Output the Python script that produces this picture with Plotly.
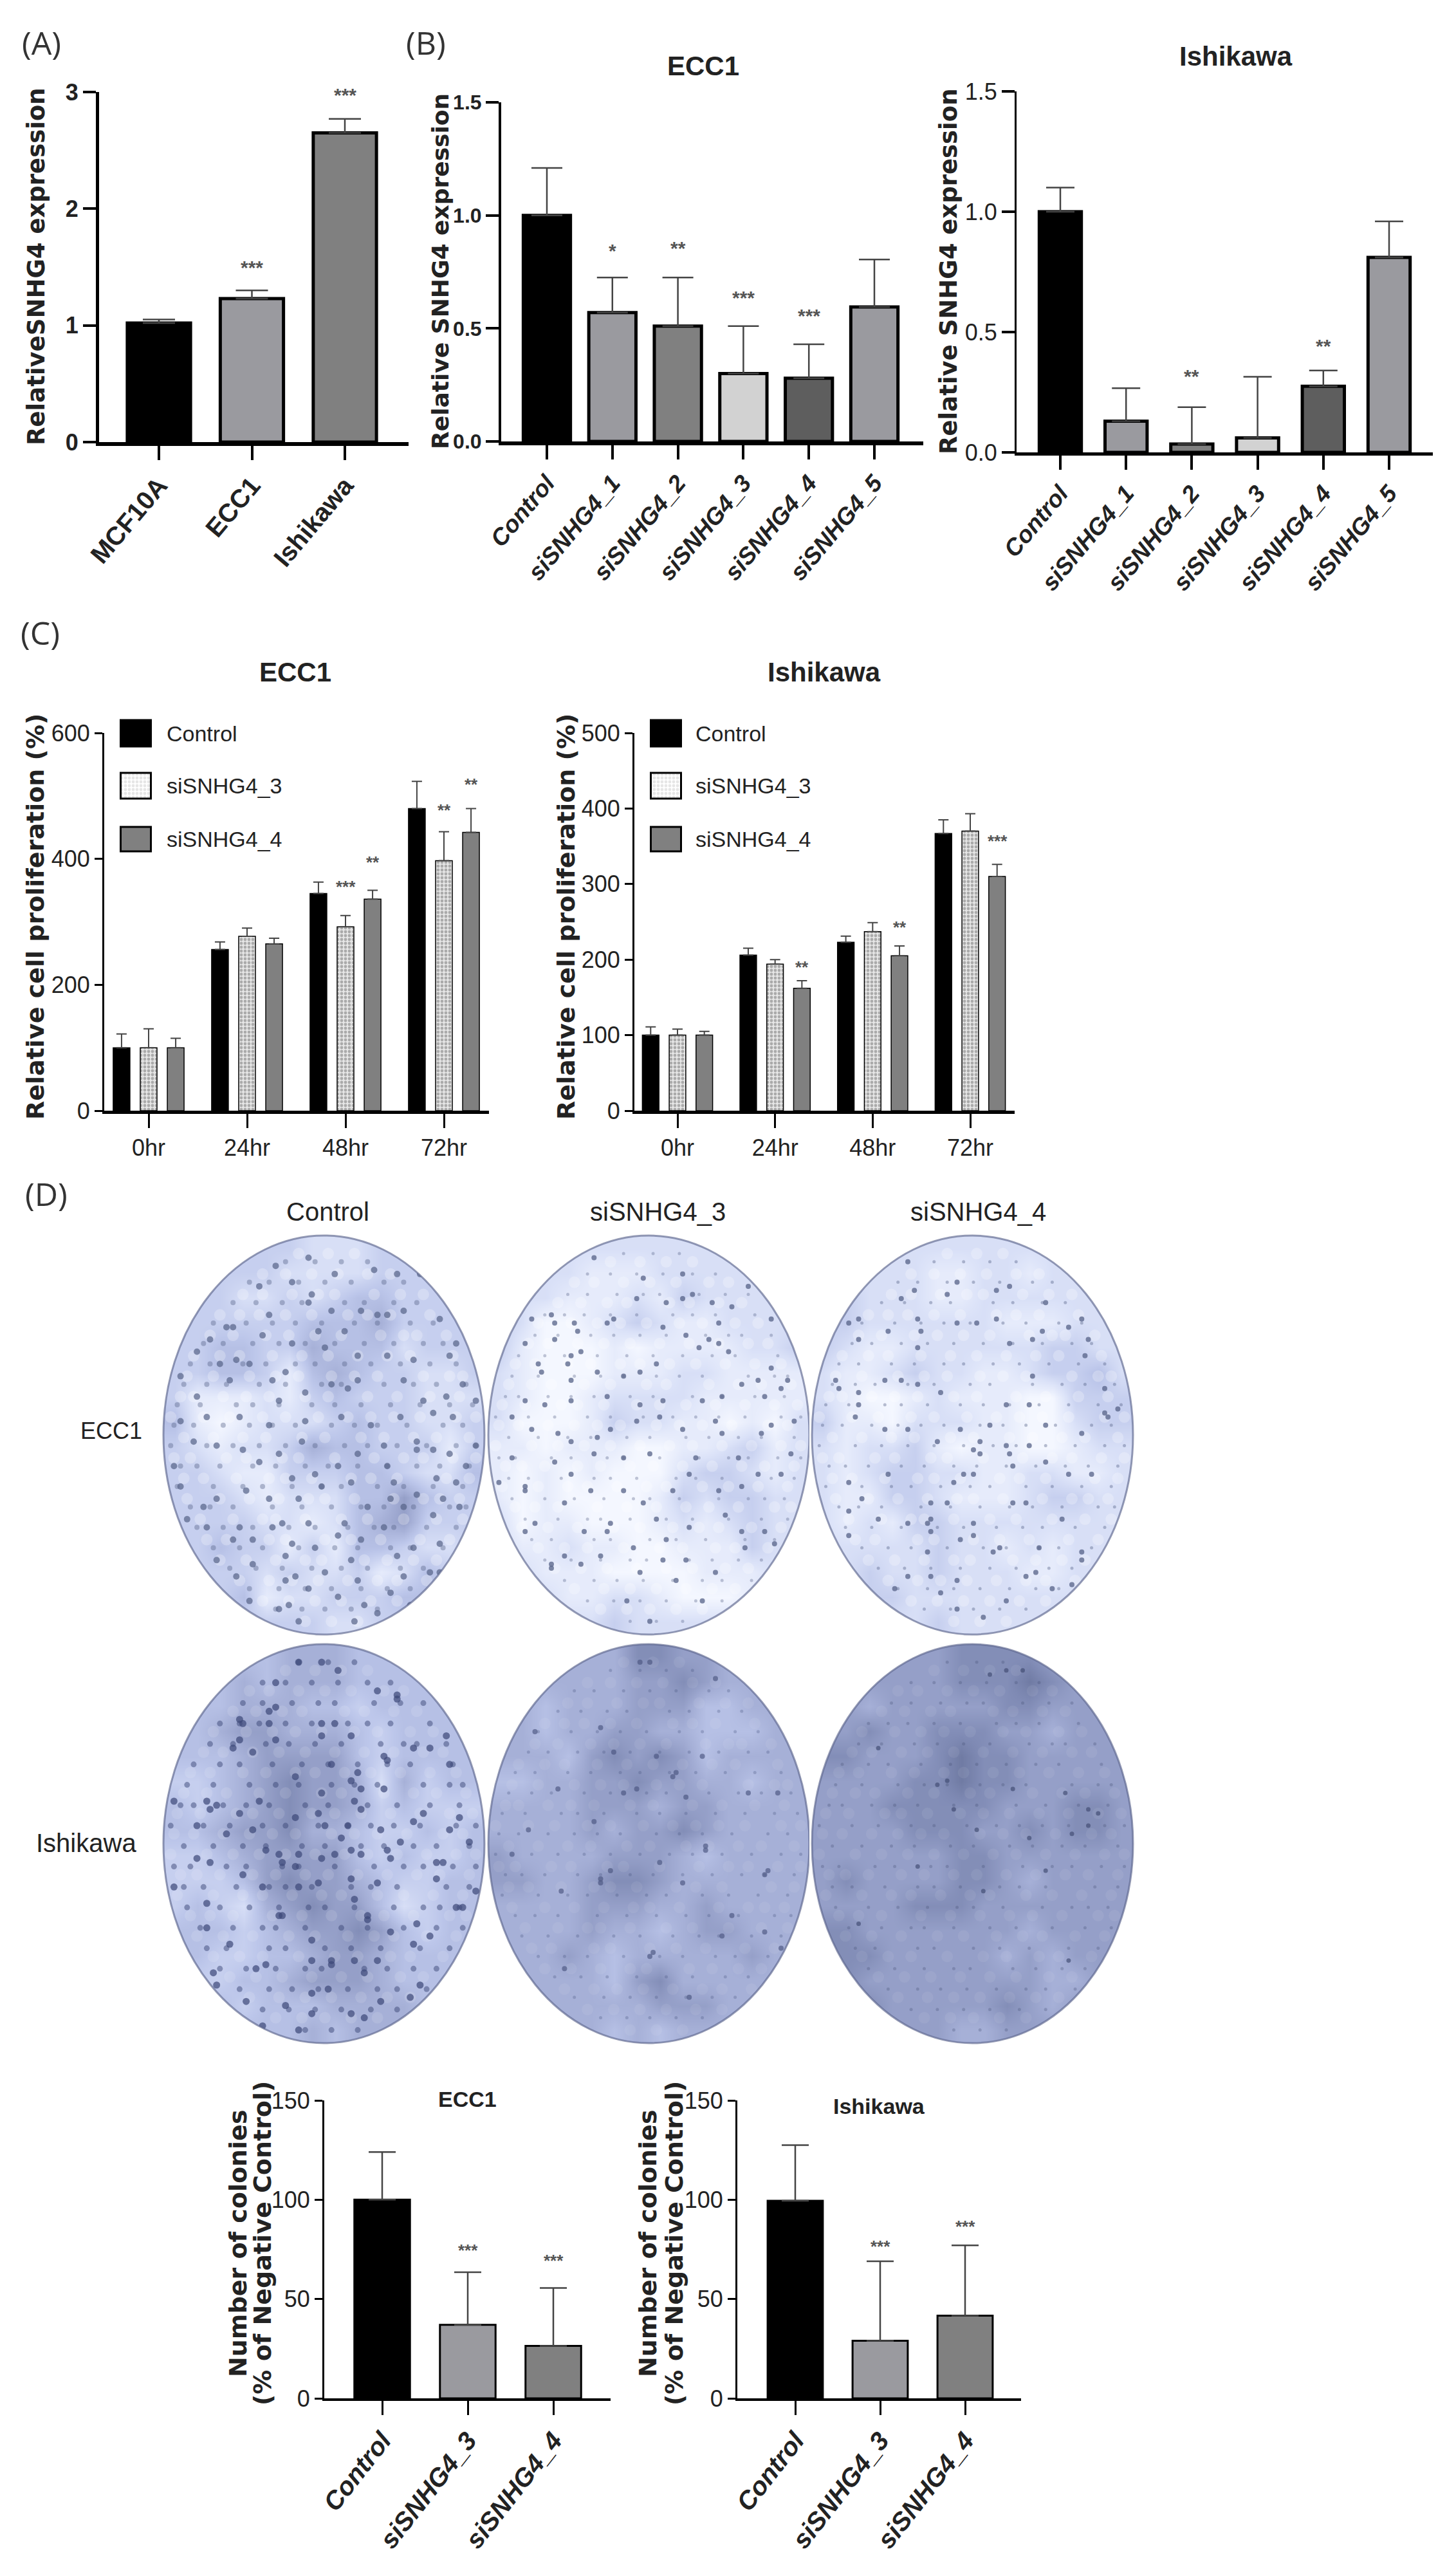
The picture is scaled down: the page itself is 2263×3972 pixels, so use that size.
import math
import plotly.graph_objects as go

W, H = 2263, 3972

# panel A
A_CATS = ['MCF10A', 'ECC1', 'Ishikawa']
A_VALUES = [1.02, 1.23, 2.65]
A_TOPS = [1.05, 1.30, 2.77]
A_STARS = [('ECC1', 1.54, '***'), ('Ishikawa', 3.02, '***')]

# panel B
B_CATS = ['Control', 'siSNHG4_1', 'siSNHG4_2', 'siSNHG4_3', 'siSNHG4_4', 'siSNHG4_5']
B_ECC1_VALUES = [1.00, 0.57, 0.51, 0.30, 0.28, 0.595]
B_ECC1_TOPS = [1.21, 0.725, 0.725, 0.51, 0.43, 0.805]
B_ECC1_STARS = [('siSNHG4_1', 0.867, '*'), ('siSNHG4_2', 0.877, '**'),
                ('siSNHG4_3', 0.658, '***'), ('siSNHG4_4', 0.579, '***')]
B_ISH_VALUES = [1.00, 0.13, 0.035, 0.06, 0.275, 0.81]
B_ISH_TOPS = [1.10, 0.267, 0.188, 0.314, 0.34, 0.96]
B_ISH_STARS = [('siSNHG4_2', 0.339, '**'), ('siSNHG4_4', 0.463, '**')]
B_TICKS = [0, 0.5, 1, 1.5]
B_TICKTEXT = ['0.0', '0.5', '1.0', '1.5']

# panel C
C_CATS = ['0hr', '24hr', '48hr', '72hr']
C_ECC1_CONTROL = [100, 256, 345, 480]
C_ECC1_CONTROL_TOPS = [122, 268, 363, 523]
C_ECC1_SI3 = [100, 277, 292, 397]
C_ECC1_SI3_TOPS = [130, 290, 310, 443]
C_ECC1_SI4 = [100, 265, 336, 442]
C_ECC1_SI4_TOPS = [115, 274, 350, 480]
C_ECC1_STARS = [('48hr', 0, 364, '***'), ('48hr', 1, 403, '**'),
                ('72hr', 0, 486, '**'), ('72hr', 1, 526, '**')]
C_ISH_CONTROL = [100, 206, 223, 367]
C_ISH_CONTROL_TOPS = [111, 215, 231, 385]
C_ISH_SI3 = [100, 194, 237, 370]
C_ISH_SI3_TOPS = [108, 200, 249, 393]
C_ISH_SI4 = [100, 162, 205, 310]
C_ISH_SI4_TOPS = [105, 172, 218, 326]
C_ISH_STARS = [('24hr', 1, 197, '**'), ('48hr', 1, 250, '**'), ('72hr', 1, 364, '***')]

# panel D bars
D_CATS = ['Control', 'siSNHG4_3', 'siSNHG4_4']
D_ECC1_VALUES = [100, 37, 26.4]
D_ECC1_TOPS = [124, 63.5, 55.6]
D_ECC1_STARS = [('siSNHG4_3', 77, '***'), ('siSNHG4_4', 72, '***')]
D_ISH_VALUES = [99.5, 29, 41.6]
D_ISH_TOPS = [127.5, 69, 77]
D_ISH_STARS = [('siSNHG4_3', 79, '***'), ('siSNHG4_4', 89, '***')]

# plate photos: tone per coarse cell (0 pale .. 9 dark)
TONE_ECC1_CONTROL = ["33333322233333", "33333222233333", "33322323443333", "33333344453333",
                     "33443354442333", "33443145433223", "31112134333222", "41012223433223",
                     "32122354433313", "33211333443224", "33321222446433", "33332212456333",
                     "33433131443223", "33332322312433", "33341223334433", "33333332233333"]
TONE_ECC1_SI3 = ["22222222222222", "22221112222222", "22211121322222", "32001232112222",
                 "31000101111223", "21000111221111", "21001222211111", "20001322110102",
                 "11011100112312", "10101000233212", "10100001323322", "20110001212322",
                 "21121100111322", "22111000011122", "22211221000122", "22222322222222"]
TONE_ECC1_SI4 = ["22222222222222", "22222112212222", "33222112222222", "33222222111222",
                 "32112222223322", "21123221123342", "21001211100333", "31102221100233",
                 "21223101100122", "21233221122112", "21133211123322", "21213322222222",
                 "22222322121222", "22322322211222", "22332222222222", "22222322222222"]
TONE_ISH_CONTROL = ["44444555444444", "44454555444444", "44455544344444", "44566555434444",
                    "44456666434444", "33456766525344", "43456766534333", "44566755433434",
                    "33456666434334", "33346766543344", "34325676642344", "44434566764344",
                    "44334456654444", "43344566654444", "44434445555444", "44444454555444"]
TONE_ISH_SI3 = ["55555577665555", "55555566765555", "55455566644555", "55455665544455",
                "55546767645555", "44556676655455", "55556665665555", "55556566765555",
                "65555666545555", "66556776555555", "55556665565555", "55556554566555",
                "55565455555655", "55555467555555", "55555556665555", "55555454555555"]
TONE_ISH_SI4 = ["66666677776666", "66666677787666", "66566666776666", "66766777665666",
                "77666787766666", "66667787766666", "66677777666776", "66667776676776",
                "66666677666666", "67666677656666", "66667776666666", "77666666656666",
                "77766666565666", "77666666665566", "66766666765666", "66666655666666"]

# colonies seen on each plate, in percent of the plate crop
SPECKS_ECC1_CONTROL = [(35,9),(45,7),(40,13),(30,14),(46,16),(53,11),(65,10),(72,11),(79,11),(74,20),(69,21),(61,20),(52,20),(45,18),(33,21),(20,24),(15,27),(22,24),(31,26),(40,28),(48,25),(56,25),(66,21),(85,22),(90,28),(88,31),(77,32),(69,31),(60,31),(50,29),(38,35),(23,32),(18,33),(11,30),(6,36),(11,41),(21,37),(27,33),(36,42),(34,37),(44,40),(52,38),(57,39),(60,37),(74,37),(80,42),(87,41),(92,38),(96,42),(89,46),(83,45),(73,46),(64,48),(55,46),(44,47),(43,52),(33,48),(24,46),(14,46),(6,47),(10,52),(17,53),(25,54),(30,57),(36,55),(40,61),(47,60),(54,58),(60,55),(68,53),(78,52),(78,54),(83,54),(88,55),(93,58),(96,53),(90,62),(84,61),(71,62),(69,58),(58,62),(49,63),(42,66),(33,66),(26,64),(17,66),(13,68),(6,63),(4,58),(8,71),(14,73),(24,73),(34,73),(37,72),(45,72),(54,75),(56,72),(63,68),(70,66),(74,68),(78,65),(86,66),(91,68),(83,70),(72,80),(68,73),(61,76),(47,78),(40,77),(28,76),(22,76),(17,81),(23,85),(28,82),(38,80),(41,85),(39,92),(38,86),(45,88),(50,84),(58,81),(60,86),(54,90),(62,92),(70,89),(77,78),(85,77),(90,80),(82,84),(74,85),(66,94),(59,96),(42,96),(27,91),(36,93),(76,92),(81,90),(85,84)]
SPECKS_ECC1_SI3 = [(27,23),(21,23),(33,7),(48,12),(60,11),(46,17),(39,22),(37,23),(28,25),(20,21),(14,22),(12,28),(26,31),(25,33),(21,27),(29,30),(17,35),(16,33),(26,37),(34,35),(42,36),(47,35),(52,33),(54,24),(55,18),(60,17),(63,16),(69,18),(65,29),(71,28),(71,23),(75,19),(80,14),(87,22),(74,30),(78,38),(68,27),(61,26),(83,37),(90,39),(87,34),(92,37),(85,41),(72,41),(66,42),(54,42),(47,43),(37,41),(26,42),(18,43),(12,42),(8,46),(14,49),(22,50),(26,52),(34,51),(38,49),(46,47),(53,46),(60,49),(64,56),(50,55),(42,56),(33,55),(26,60),(21,57),(12,64),(8,56),(12,63),(4,62),(15,72),(24,67),(32,64),(42,64),(48,67),(57,64),(62,60),(71,64),(78,63),(83,60),(90,60),(84,50),(77,56),(72,50),(70,47),(87,48),(94,47),(93,55),(37,74),(38,72),(30,74),(24,80),(12,74),(20,82),(35,80),(45,78),(52,71),(55,76),(62,73),(54,81),(61,81),(70,84),(78,74),(85,74),(79,78),(73,70),(66,91),(50,96),(43,91),(29,82),(20,83),(58,86),(47,84),(88,77)]
SPECKS_ECC1_SI4 = [(45,13),(42,16),(30,8),(32,15),(28,17),(33,22),(24,25),(15,22),(12,23),(15,27),(33,29),(34,25),(45,23),(51,23),(57,22),(61,14),(57,15),(72,18),(71,25),(68,27),(79,24),(85,27),(83,22),(84,31),(68,36),(61,28),(40,40),(33,38),(28,37),(23,37),(15,40),(9,39),(8,37),(15,43),(14,46),(23,49),(30,49),(39,52),(46,49),(52,52),(50,54),(52,55),(60,53),(61,55),(67,53),(60,43),(55,48),(67,43),(72,48),(83,50),(90,39),(90,45),(91,46),(94,44),(86,60),(79,60),(72,57),(62,58),(50,60),(44,62),(37,67),(42,67),(47,60),(24,60),(12,62),(16,66),(12,69),(12,75),(21,71),(30,72),(37,71),(37,74),(36,79),(50,72),(50,75),(58,78),(62,67),(66,67),(77,71),(83,79),(83,81),(70,78),(69,84),(56,79),(45,86),(37,85),(30,85),(26,88),(40,89),(45,93),(53,95),(60,91),(66,85),(74,88),(80,87),(46,76),(36,72)]
SPECKS_ISH_CONTROL = [(35,11),(42,6),(49,6),(54,8),(66,13),(72,14),(35,17),(33,18),(24,20),(25,21),(33,21),(24,25),(22,27),(28,28),(35,25),(49,21),(49,24),(53,21),(58,24),(52,31),(60,33),(68,29),(69,30),(72,15),(77,27),(82,27),(87,24),(88,31),(68,37),(61,37),(58,35),(49,38),(41,34),(48,43),(41,44),(30,40),(24,43),(15,42),(14,40),(4,40),(11,46),(17,41),(28,47),(32,52),(37,55),(41,56),(42,61),(36,53),(42,53),(49,54),(55,49),(53,53),(58,52),(61,53),(59,40),(61,42),(50,46),(57,46),(67,47),(73,50),(80,43),(77,45),(91,44),(88,47),(86,55),(84,55),(70,54),(69,52),(58,59),(66,60),(59,64),(63,69),(48,60),(36,68),(31,61),(25,58),(20,48),(15,55),(11,54),(4,61),(14,65),(14,71),(21,75),(29,81),(32,80),(37,68),(46,74),(46,79),(52,79),(52,80),(59,79),(63,68),(70,72),(78,70),(90,66),(92,66),(96,62),(94,50),(84,59),(82,73),(77,75),(67,89),(62,82),(58,92),(62,93),(51,86),(46,92),(38,90),(26,89),(17,85),(16,82),(31,95),(79,85),(76,88),(66,79),(46,87),(42,96)]
SPECKS_ISH_SI3 = [(47,6),(50,6),(70,10),(35,22),(39,28),(52,29),(58,33),(57,34),(61,39),(66,29),(80,38),(46,37),(42,38),(15,23),(13,47),(67,52),(67,51),(35,60),(35,59),(38,57),(53,55),(23,62),(85,58),(86,57),(8,53),(89,38),(60,60),(51,77),(50,78),(72,73),(62,88),(24,81),(90,76),(33,45),(22,37),(75,68),(85,72)]
SPECKS_ISH_SI4 = [(42,35),(62,37),(51,47),(78,38),(85,42),(85,46),(88,43),(80,48),(67,49),(79,79),(15,70),(55,9),(65,8),(60,8),(21,27),(39,36),(44,42),(72,57),(33,56),(53,62)]

# fine mottling estimated by eye: row (percent down the crop) -> blotches across it
MOTTLE_A = {8: [38, 47, 55, 63], 13: [27, 33, 42, 50, 58, 68, 74], 18: [22, 29, 37, 43, 56, 62, 71, 78],
            23: [16, 26, 34, 41, 49, 59, 66, 76, 83], 28: [13, 19, 28, 36, 44, 53, 62, 71, 80, 86],
            33: [9, 15, 25, 32, 41, 47, 56, 64, 73, 82, 90], 38: [7, 14, 20, 30, 38, 49, 55, 68, 77, 84, 93],
            43: [5, 12, 23, 28, 36, 46, 53, 61, 70, 79, 88, 95], 48: [4, 10, 19, 27, 34, 41, 52, 59, 66, 75, 86, 92],
            53: [3, 14, 22, 30, 38, 47, 56, 63, 72, 81, 90, 96], 58: [6, 11, 18, 28, 35, 44, 51, 60, 69, 78, 85, 94],
            63: [5, 16, 25, 31, 40, 49, 55, 66, 74, 83, 92], 68: [9, 15, 22, 34, 43, 52, 61, 68, 77, 88, 93],
            73: [11, 19, 28, 39, 47, 57, 65, 71, 81, 90], 78: [16, 24, 31, 42, 53, 60, 70, 76, 86],
            83: [21, 29, 37, 46, 55, 63, 73, 80], 88: [27, 36, 44, 52, 61, 69, 76], 93: [35, 43, 50, 58, 66]}
MOTTLE_B = {6: [42, 51, 59], 11: [31, 38, 46, 54, 63, 70], 16: [25, 31, 40, 48, 53, 65, 73, 80],
            21: [18, 24, 30, 38, 46, 57, 63, 70, 82], 26: [15, 22, 32, 39, 47, 55, 67, 74, 78, 87],
            31: [10, 18, 24, 34, 43, 51, 60, 69, 76, 89], 36: [8, 16, 27, 35, 42, 52, 59, 66, 80, 88, 92],
            41: [6, 10, 19, 26, 33, 44, 51, 63, 72, 82, 91], 46: [3, 13, 21, 31, 38, 48, 57, 64, 71, 79, 90, 96],
            51: [7, 16, 25, 32, 43, 50, 61, 68, 77, 84, 94], 56: [4, 9, 20, 26, 37, 42, 53, 65, 74, 80, 89, 96],
            61: [7, 13, 23, 33, 38, 46, 58, 64, 72, 87, 94], 66: [8, 18, 27, 36, 45, 50, 59, 71, 80, 85, 91],
            71: [12, 22, 31, 35, 44, 55, 63, 74, 84, 92], 76: [14, 20, 33, 38, 50, 58, 67, 79, 88],
            81: [18, 26, 35, 44, 49, 62, 69, 77, 84], 86: [24, 33, 40, 48, 57, 66, 72, 81],
            91: [31, 39, 47, 55, 64, 72], 96: [44, 52, 60]}

BLACK = '#000000'
MID = '#9a9a9f'
DARK = '#808080'
LIGHT = '#d2d2d2'
DEEP = '#5e5e5e'
ARIAL = 'Liberation Sans'
WIDE = 'DejaVu Sans'
PANEL_FONT = 'Open Sans'
DOTS = dict(shape='.', fgcolor='#6e6e6e', bgcolor='#e6e6e6', size=6, solidity=0.5)

fig = go.Figure()
annotations = []
shapes = []
boxes = {}


def text(s, x, y, size, family=ARIAL, weight=400, angle=0, color='#222222', anchor='center'):
    annotations.append(dict(text=s, x=x / W, y=1 - y / H, xref='paper', yref='paper',
                            xanchor=anchor, yanchor='middle', showarrow=False, textangle=angle,
                            font=dict(size=size, family=family, weight=weight, color=color)))


def stars(n, cat, y, label, size=30, xshift=0):
    # paper y so marks above the axis top still show
    top, bottom, ymax = boxes[n]
    annotations.append(dict(text=label, x=cat, y=1 - (bottom - y / ymax * (bottom - top)) / H,
                            xref=f'x{n}', yref='paper', xshift=xshift, yshift=-8,
                            showarrow=False, xanchor='center', yanchor='middle',
                            font=dict(size=size, family=ARIAL, weight=700, color='#555555')))


def add_axes(n, cats, box, first, last, yrange, ytick, ytext, xfont, yfont, ylw, xlw, angle, xlen=22, ylen=20, tw=4):
    left, right, top, bottom = box
    boxes[n] = (top, bottom, yrange[1])
    step = (last - first) / (len(cats) - 1)
    fig.update_layout(**{
        f'xaxis{n}': dict(domain=[left / W, right / W], anchor=f'y{n}', type='category', automargin=False,
                          categoryorder='array', categoryarray=cats,
                          range=[(left - first) / step, (right - first) / step],
                          showline=True, linecolor='black', linewidth=xlw, showgrid=False, zeroline=False,
                          ticks='outside', ticklen=xlen, tickwidth=tw, tickcolor='black',
                          tickangle=angle, tickfont=xfont),
        f'yaxis{n}': dict(domain=[1 - bottom / H, 1 - top / H], anchor=f'x{n}', range=yrange, automargin=False,
                          showline=True, linecolor='black', linewidth=ylw, showgrid=False, zeroline=False,
                          ticks='outside', ticklen=ylen, tickwidth=tw, tickcolor='black',
                          tickvals=ytick, ticktext=ytext, tickfont=yfont),
    })


def add_bars(n, cats, values, tops, colors, width, line, cap, err_w=2.5):
    fig.add_trace(go.Bar(
        x=cats, y=values, width=width, xaxis=f'x{n}', yaxis=f'y{n}',
        marker=dict(color=colors, line=dict(color='black', width=line)),
        error_y=dict(type='data', symmetric=False, array=[t - v for t, v in zip(tops, values)],
                     arrayminus=[0] * len(values), color='#444444', thickness=err_w, width=cap),
        showlegend=False, hoverinfo='skip'))


BOLD = dict(family=ARIAL, weight=700, color='#222222')
BOLD_IT = dict(family=ARIAL, weight=700, style='italic', color='#222222')
PLAIN = dict(family=ARIAL, color='#222222')

# (A)
add_axes(1, A_CATS, (154, 635, 143, 687), 247, 536, [0, 3], [0, 1, 2, 3], ['0', '1', '2', '3'],
         dict(size=40, **BOLD), dict(size=36, **BOLD), 5, 6, -50)
add_bars(1, A_CATS, A_VALUES, A_TOPS, [BLACK, MID, DARK], 0.68, 5, 25)
for cat, y, label in A_STARS:
    stars(1, cat, y, label)

# (B) ECC1
add_axes(2, B_CATS, (779, 1435, 159, 686), 850, 1359, [0, 1.5], B_TICKS, B_TICKTEXT,
         dict(size=37, **BOLD_IT), dict(size=32, **BOLD), 4, 6, -50)
add_bars(2, B_CATS, B_ECC1_VALUES, B_ECC1_TOPS, [BLACK, MID, DARK, LIGHT, DEEP, MID], 0.72, 5, 24)
for cat, y, label in B_ECC1_STARS:
    stars(2, cat, y, label)

# (B) Ishikawa
add_axes(3, B_CATS, (1580, 2227, 142, 703), 1648, 2159, [0, 1.5], B_TICKS, B_TICKTEXT,
         dict(size=37, **BOLD_IT), dict(size=36, **PLAIN), 3, 5, -50)
add_bars(3, B_CATS, B_ISH_VALUES, B_ISH_TOPS, [BLACK, MID, DARK, LIGHT, DEEP, MID], 0.64, 5, 22)
for cat, y, label in B_ISH_STARS:
    stars(3, cat, y, label)

# (C) grouped bars, one trace per treatment
C_OFFSETS = [-0.275, 0, 0.275]
C_BAR = 0.17


def add_group(n, series):
    for k, (values, tops, color, pattern) in enumerate(series):
        fig.add_trace(go.Bar(
            x=C_CATS, y=values, width=C_BAR, offset=C_OFFSETS[k] - C_BAR / 2,
            xaxis=f'x{n}', yaxis=f'y{n}',
            marker=dict(color=color, line=dict(color='black', width=1.5), pattern=pattern),
            error_y=dict(type='data', symmetric=False, array=[t - v for t, v in zip(tops, values)],
                         arrayminus=[0] * len(values), color='#444444', thickness=2, width=8),
            showlegend=False, hoverinfo='skip'))


add_axes(4, C_CATS, (162, 760, 1139, 1726), 231, 690, [0, 600], [0, 200, 400, 600], ['0', '200', '400', '600'],
         dict(size=36, **PLAIN), dict(size=36, **PLAIN), 3, 5, 0, ylen=12, tw=3)
add_group(4, [(C_ECC1_CONTROL, C_ECC1_CONTROL_TOPS, BLACK, None),
              (C_ECC1_SI3, C_ECC1_SI3_TOPS, '#e6e6e6', DOTS),
              (C_ECC1_SI4, C_ECC1_SI4_TOPS, DARK, None)])
for cat, k, y, label in C_ECC1_STARS:
    stars(4, cat, y, label, size=26, xshift=42 * k)

add_axes(5, C_CATS, (986, 1577, 1139, 1726), 1053, 1508, [0, 500], [0, 100, 200, 300, 400, 500],
         ['0', '100', '200', '300', '400', '500'],
         dict(size=36, **PLAIN), dict(size=36, **PLAIN), 3, 5, 0, ylen=12, tw=3)
add_group(5, [(C_ISH_CONTROL, C_ISH_CONTROL_TOPS, BLACK, None),
              (C_ISH_SI3, C_ISH_SI3_TOPS, '#e6e6e6', DOTS),
              (C_ISH_SI4, C_ISH_SI4_TOPS, DARK, None)])
for cat, k, y, label in C_ISH_STARS:
    stars(5, cat, y, label, size=26, xshift=42 * k)

# (D) bars
add_axes(6, D_CATS, (504, 949, 3264, 3727), 594, 860, [0, 150], [0, 50, 100, 150], ['0', '50', '100', '150'],
         dict(size=40, **BOLD_IT), dict(size=36, **PLAIN), 3, 4, -52, ylen=12, tw=3)
add_bars(6, D_CATS, D_ECC1_VALUES, D_ECC1_TOPS, [BLACK, MID, DARK], 0.65, 3, 21)
for cat, y, label in D_ECC1_STARS:
    stars(6, cat, y, label, size=26)

add_axes(7, D_CATS, (1146, 1587, 3264, 3727), 1236, 1500, [0, 150], [0, 50, 100, 150], ['0', '50', '100', '150'],
         dict(size=40, **BOLD_IT), dict(size=36, **PLAIN), 3, 4, -52, ylen=12, tw=3)
add_bars(7, D_CATS, D_ISH_VALUES, D_ISH_TOPS, [BLACK, MID, DARK], 0.65, 3, 21)
for cat, y, label in D_ISH_STARS:
    stars(7, cat, y, label, size=26)

# page-pixel axes for the plates and the legend swatches
fig.update_layout(
    xaxis8=dict(domain=[0, 1], range=[0, W], visible=False, anchor='y8', automargin=False),
    yaxis8=dict(domain=[0, 1], range=[H, 0], visible=False, anchor='x8', automargin=False),
)

TONE_SCALE = [[0, '#f4f7ff'], [0.2, '#dbe2f8'], [0.4, '#bcc6ea'], [0.6, '#a0aad2'], [0.8, '#7f8ab4'], [1, '#5d688f']]
PLATE_W, PLATE_H = 499, 620
CROP_DX, CROP_DY = 4, 10


def dots(left, top, xs, ys, size, color, opacity):
    fig.add_trace(go.Scatter(x=[left - CROP_DX + px * 5.1 for px in xs],
                             y=[top - CROP_DY + py * 6.35 for py in ys],
                             mode='markers', marker=dict(size=size, color=color, opacity=opacity),
                             xaxis='x8', yaxis='y8', showlegend=False, hoverinfo='skip'))


def mottle(left, top, rows, size, color, opacity):
    xs = [x for y, row in rows.items() for x in row]
    ys = [y for y, row in rows.items() for _ in row]
    dots(left, top, xs, ys, size, color, opacity)


PLATES = [
    (254, 1920, TONE_ECC1_CONTROL, SPECKS_ECC1_CONTROL, 10, '#566287', 0.7, MOTTLE_A, MOTTLE_B, 8, 0.4, 0.25),
    (759, 1920, TONE_ECC1_SI3, SPECKS_ECC1_SI3, 8, '#566287', 0.75, MOTTLE_B, MOTTLE_A, 5, 0.35, 0.25),
    (1262, 1920, TONE_ECC1_SI4, SPECKS_ECC1_SI4, 8, '#566287', 0.75, MOTTLE_A, MOTTLE_B, 5, 0.4, 0.25),
    (254, 2555, TONE_ISH_CONTROL, SPECKS_ISH_CONTROL, 11, '#3c4778', 0.7, MOTTLE_B, MOTTLE_A, 9, 0.5, 0.12),
    (759, 2555, TONE_ISH_SI3, SPECKS_ISH_SI3, 8, '#4a5580', 0.65, MOTTLE_A, MOTTLE_B, 5, 0.3, 0.07),
    (1262, 2555, TONE_ISH_SI4, SPECKS_ISH_SI4, 7, '#3f4a70', 0.65, MOTTLE_B, MOTTLE_A, 5, 0.28, 0.07),
]
for left, top, tone, specks, size, color, opacity, dark_rows, pale_rows, fine, fine_op, pale_op in PLATES:
    z = [[int(c) for c in row] for row in tone]
    dx, dy = PLATE_W / len(z[0]), PLATE_H / len(z)
    fig.add_trace(go.Heatmap(z=z, x0=left + dx / 2, dx=dx, y0=top + dy / 2, dy=dy, zmin=0, zmax=9,
                             colorscale=TONE_SCALE, zsmooth='best', showscale=False, hoverinfo='skip',
                             xaxis='x8', yaxis='y8'))
    mottle(left, top, pale_rows, 18, 'white', pale_op)
    mottle(left, top, dark_rows, fine, color, fine_op)
    dots(left, top, [p[0] for p in specks], [p[1] for p in specks], size, color, opacity)
    a, b = PLATE_W / 2, PLATE_H / 2
    cx, cy = left + a, top + b
    # white frame with an elliptical hole trims the tone grid to the plate
    hole = ' '.join(('M' if i == 0 else 'L') + f' {cx + a * math.cos(i * math.pi / 90):.1f} {cy + b * math.sin(i * math.pi / 90):.1f}'
                    for i in range(180))
    shapes.append(dict(type='path', xref='x8', yref='y8', layer='above', fillcolor='white', fillrule='evenodd',
                       line=dict(width=0),
                       path=f'M {left - 4} {top - 4} L {left + PLATE_W + 4} {top - 4} L {left + PLATE_W + 4} {top + PLATE_H + 4} '
                            f'L {left - 4} {top + PLATE_H + 4} Z {hole} Z'))
    shapes.append(dict(type='circle', xref='x8', yref='y8', x0=left, x1=left + PLATE_W, y0=top, y1=top + PLATE_H,
                       layer='above', line=dict(color='rgba(90,100,140,0.65)', width=3)))

# legends in (C)
for swatch_x, text_x in [(211, 257), (1035, 1079)]:
    fig.add_trace(go.Bar(x=[swatch_x] * 3, y=[41, 40, 38], base=[1119, 1201, 1285], width=47,
                         marker=dict(color=[BLACK, '#e6e6e6', DARK], line=dict(color='black', width=3),
                                     pattern=dict(shape=['', '.', ''], fgcolor='#6e6e6e', bgcolor='#e6e6e6',
                                                  size=6, solidity=0.5, fillmode='replace')),
                         xaxis='x8', yaxis='y8', showlegend=False, hoverinfo='skip'))
    for y, label in [(1140, 'Control'), (1221, 'siSNHG4_3'), (1304, 'siSNHG4_4')]:
        text(label, text_x, y, 34, anchor='left')

# panel letters
text('(A)', 64, 66, 50, family=PANEL_FONT, color='#333333')
text('(B)', 662, 66, 50, family=PANEL_FONT, color='#333333')
text('(C)', 62, 983, 50, family=PANEL_FONT, color='#333333')
text('(D)', 72, 1855, 50, family=PANEL_FONT, color='#333333')

# chart titles
text('ECC1', 1093, 103, 42, weight=700)
text('Ishikawa', 1921, 88, 42, weight=700)
text('ECC1', 459, 1045, 42, weight=700)
text('Ishikawa', 1281, 1045, 42, weight=700)
text('ECC1', 726, 3262, 34, weight=700)
text('Ishikawa', 1366, 3273, 34, weight=700)

# y axis titles
text('RelativeSNHG4 expression', 57, 414, 37, family=WIDE, weight=700, angle=-90)
text('Relative SNHG4 expression', 684, 422, 36, family=WIDE, weight=700, angle=-90)
text('Relative SNHG4 expression', 1474, 422, 37, family=WIDE, weight=700, angle=-90)
text('Relative cell proliferation (%)', 55, 1425, 38, family=WIDE, weight=700, angle=-90)
text('Relative cell proliferation (%)', 880, 1425, 38, family=WIDE, weight=700, angle=-90)
text('Number of colonies', 370, 3486, 38, family=WIDE, weight=700, angle=-90)
text('(% of Negative Control)', 408, 3486, 38, family=WIDE, weight=700, angle=-90)
text('Number of colonies', 1007, 3486, 38, family=WIDE, weight=700, angle=-90)
text('(% of Negative Control)', 1048, 3486, 38, family=WIDE, weight=700, angle=-90)

# plate labels
text('Control', 509, 1883, 40)
text('siSNHG4_3', 1022, 1883, 40)
text('siSNHG4_4', 1520, 1883, 40)
text('ECC1', 173, 2223, 36)
text('Ishikawa', 134, 2864, 40)

fig.update_layout(
    width=W, height=H, margin=dict(l=0, r=0, t=0, b=0),
    paper_bgcolor='white', plot_bgcolor='rgba(0,0,0,0)',
    barmode='overlay', showlegend=False,
    annotations=annotations, shapes=shapes,
)

fig.write_html("out.html", config={'displayModeBar': False},
               post_script="document.body.style.margin='0';")
